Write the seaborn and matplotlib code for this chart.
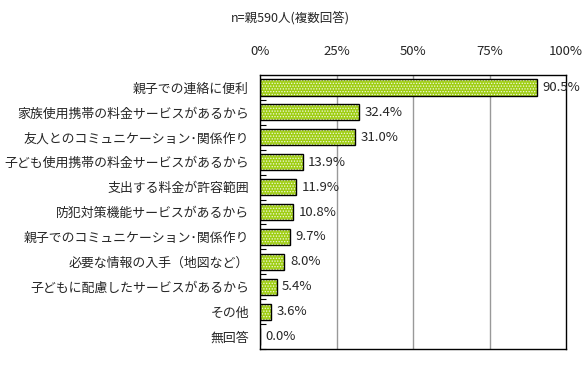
import matplotlib
matplotlib.use("Agg")
import matplotlib.pyplot as plt
import seaborn as sns
import pandas as pd
import numpy as np

categories = [
    "親子での連絡に便利",
    "家族使用携帯の料金サービスがあるから",
    "友人とのコミュニケーション･関係作り",
    "子ども使用携帯の料金サービスがあるから",
    "支出する料金が許容範囲",
    "防犯対策機能サービスがあるから",
    "親子でのコミュニケーション･関係作り",
    "必要な情報の入手（地図など）",
    "子どもに配慮したサービスがあるから",
    "その他",
    "無回答",
]
values = [90.5, 32.4, 31.0, 13.9, 11.9, 10.8, 9.7, 8.0, 5.4, 3.6, 0.0]
xticks = [0, 25, 50, 75, 100]
xtick_labels = ["0%", "25%", "50%", "75%", "100%"]
title = "n=親590人(複数回答)"

sns.set_theme(style="white")
plt.rcParams["font.family"] = ["Noto Sans CJK JP", "DejaVu Sans"]
plt.rcParams["hatch.linewidth"] = 0.6

df = pd.DataFrame({"cat": categories, "val": values})

fig = plt.figure(figsize=(5.83, 3.65), dpi=100)
ax = fig.add_axes([260/583, 1 - 349/365, (566 - 260)/583, (349 - 75)/365])

# dotted fill layer
sns.barplot(data=df, x="val", y="cat", orient="h", color="#9fce14",
            edgecolor="#f4f8e0", linewidth=0, width=0.65, saturation=1,
            hatch="......", ax=ax)
# outline layer
n_before = len(ax.patches)
sns.barplot(data=df, x="val", y="cat", orient="h", color="black",
            fill=False, linewidth=1.0, width=0.65, saturation=1, ax=ax)
for p in ax.patches[n_before:]:
    p.set_edgecolor("black")
    p.set_facecolor("none")
    p.set_hatch(None)

ax.set_xlim(0, 100)
ax.set_ylim(len(categories) - 0.5, -0.5)
ax.set_xticks(xticks)
ax.set_xticklabels(xtick_labels, fontsize=9.5)
ax.xaxis.tick_top()
ax.tick_params(axis="x", length=0, pad=12)
ax.set_xlabel("")
ax.set_ylabel("")
ax.tick_params(axis="y", length=0, pad=8, labelsize=9.3)
ax.set_yticks(range(len(categories)))
ax.set_yticklabels(categories)
ax.set_yticks(np.arange(len(categories)) + 0.5, minor=True)
ax.tick_params(axis="y", which="minor", direction="in", length=4, width=0.8, color="black", left=True)

for xv in [25, 50, 75]:
    ax.axvline(xv, color="#999999", linewidth=1.0, zorder=0)
for s in ax.spines.values():
    s.set_color("black")
    s.set_linewidth(1.0)
    s.set_visible(True)

for i, v in enumerate(values):
    ax.text(v + 1.8, i, f"{v:.1f}%", va="center", ha="left", fontsize=9.5)

fig.text(290/583, 1 - 18/365, title, ha="center", va="center", fontsize=9)

fig.savefig("out.png", dpi=100)
